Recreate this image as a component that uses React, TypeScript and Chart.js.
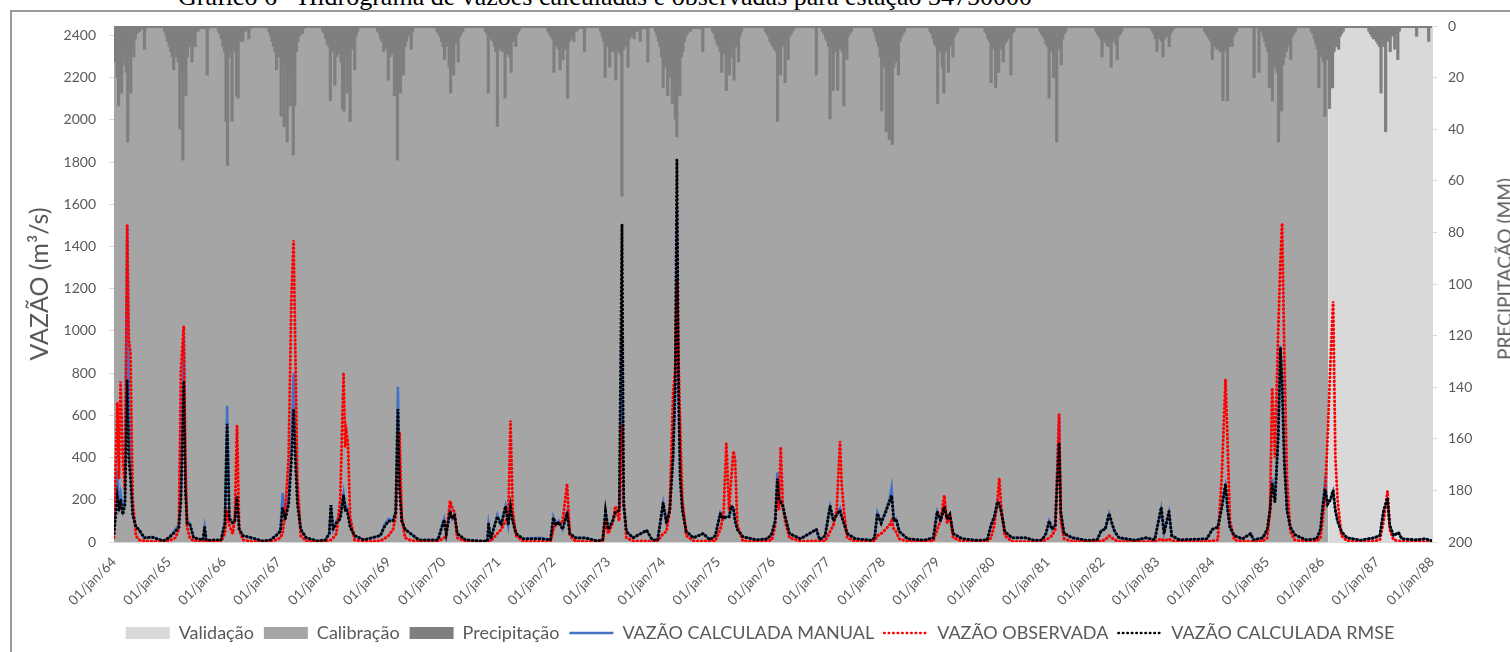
import React, { useEffect, useRef } from 'react';
import { Chart, registerables } from 'chart.js';

Chart.register(...registerables);

const FONT = 'Lato, "Open Sans", sans-serif';
const TEXT_GRAY = '#595959';

// ---- Flow series (decimal-year dates shared by the three series) ----
const flowDates = [
  1964.00, 1964.06, 1964.09, 1964.12, 1964.16, 1964.20, 1964.24, 1964.27, 1964.30, 1964.34, 1964.40, 1964.45, 1964.55, 1964.70, 1964.90,
  1965.00, 1965.12, 1965.18, 1965.22, 1965.27, 1965.30, 1965.33, 1965.38, 1965.45, 1965.62, 1965.65, 1965.68, 1965.95,
  1966.02, 1966.06, 1966.10, 1966.16, 1966.20, 1966.24, 1966.28, 1966.35, 1966.50, 1966.70, 1966.85, 1966.95,
  1967.03, 1967.07, 1967.12, 1967.18, 1967.23, 1967.27, 1967.30, 1967.34, 1967.40, 1967.50, 1967.70, 1967.85, 1967.92, 1967.95, 1967.99,
  1968.05, 1968.12, 1968.18, 1968.21, 1968.23, 1968.26, 1968.30, 1968.38, 1968.55, 1968.85, 1968.92,
  1969.00, 1969.08, 1969.13, 1969.17, 1969.20, 1969.24, 1969.30, 1969.40, 1969.55, 1969.90,
  1970.01, 1970.05, 1970.12, 1970.16, 1970.20, 1970.25, 1970.40, 1970.65, 1970.80, 1970.82, 1970.86, 1970.98,
  1971.05, 1971.13, 1971.18, 1971.22, 1971.26, 1971.32, 1971.45, 1971.77, 1971.95,
  1972.00, 1972.05, 1972.10, 1972.17, 1972.25, 1972.30, 1972.40, 1972.60, 1972.80, 1972.90, 1972.95,
  1973.00, 1973.08, 1973.13, 1973.20, 1973.25, 1973.28, 1973.33, 1973.45, 1973.70, 1973.80, 1973.90,
  1974.00, 1974.06, 1974.12, 1974.18, 1974.22, 1974.25, 1974.28, 1974.31, 1974.35, 1974.42, 1974.55, 1974.73, 1974.85, 1974.95,
  1975.04, 1975.10, 1975.15, 1975.20, 1975.24, 1975.28, 1975.31, 1975.35, 1975.45, 1975.70, 1975.90, 1975.98,
  1976.04, 1976.08, 1976.11, 1976.14, 1976.18, 1976.22, 1976.30, 1976.50, 1976.79, 1976.85, 1976.95,
  1977.04, 1977.10, 1977.16, 1977.22, 1977.25, 1977.29, 1977.35, 1977.50, 1977.80, 1977.85, 1977.90, 1977.97,
  1978.05, 1978.12, 1978.16, 1978.20, 1978.24, 1978.30, 1978.45, 1978.75, 1978.92, 1978.99,
  1979.05, 1979.12, 1979.17, 1979.22, 1979.28, 1979.45, 1979.70, 1979.90, 1979.97,
  1980.03, 1980.09, 1980.12, 1980.16, 1980.22, 1980.35, 1980.60, 1980.75, 1980.90, 1980.97,
  1981.03, 1981.08, 1981.14, 1981.21, 1981.24, 1981.30, 1981.45, 1981.70, 1981.90, 1981.98,
  1982.05, 1982.12, 1982.17, 1982.22, 1982.30, 1982.60, 1982.79, 1982.95,
  1983.07, 1983.12, 1983.21, 1983.26, 1983.40, 1983.90,
  1984.00, 1984.10, 1984.17, 1984.24, 1984.28, 1984.32, 1984.40, 1984.55, 1984.70, 1984.75, 1984.92,
  1985.00, 1985.05, 1985.09, 1985.14, 1985.20, 1985.24, 1985.27, 1985.31, 1985.36, 1985.42, 1985.50, 1985.70, 1985.90, 1985.97,
  1986.00, 1986.05, 1986.10, 1986.15, 1986.20, 1986.24, 1986.28, 1986.35, 1986.45, 1986.70, 1986.95,
  1987.05, 1987.12, 1987.19, 1987.23, 1987.30, 1987.39, 1987.45, 1987.70, 1987.88, 1988.00,
];

const vazaoManual = [
  50, 340, 180, 230, 150, 200, 1496, 700, 400, 150, 70, 60, 20, 25, 5,
  20, 60, 80, 250, 967, 300, 100, 90, 20, 10, 72, 8, 10,
  100, 645, 120, 90, 100, 220, 60, 30, 20, 5, 10, 30,
  60, 233, 120, 200, 450, 800, 500, 200, 60, 20, 5, 10, 40, 175, 60,
  100, 120, 230, 160, 170, 140, 80, 30, 10, 30, 80,
  110, 100, 150, 735, 300, 100, 60, 40, 10, 10,
  110, 40, 150, 110, 130, 40, 10, 5, 5, 85, 15, 130,
  80, 170, 80, 170, 100, 40, 15, 20, 10,
  120, 80, 100, 60, 140, 40, 20, 20, 5, 10, 150,
  60, 100, 140, 150, 975, 180, 50, 20, 55, 10, 10,
  185, 90, 150, 400, 700, 1583, 700, 300, 150, 50, 20, 40, 10, 30,
  140, 110, 120, 120, 170, 160, 100, 60, 25, 10, 15, 40,
  100, 330, 200, 200, 170, 120, 40, 15, 60, 10, 30,
  170, 100, 130, 160, 120, 90, 40, 15, 8, 20, 140, 90,
  150, 200, 260, 100, 110, 50, 15, 8, 20, 145,
  100, 170, 110, 130, 40, 15, 8, 10, 80,
  120, 200, 180, 140, 50, 20, 20, 8, 10, 40,
  100, 60, 80, 590, 150, 40, 20, 8, 10, 55,
  60, 135, 90, 50, 20, 8, 20, 10,
  160, 40, 140, 30, 10, 15,
  60, 70, 170, 265, 150, 70, 30, 15, 40, 10, 20,
  60, 150, 300, 200, 500, 930, 800, 400, 150, 70, 35, 10, 15, 60,
  150, 280, 180, 200, 240, 150, 100, 50, 20, 8, 20,
  30, 150, 190, 80, 30, 45, 15, 10, 15, 5,
];

const vazaoObservada = [
  20, 660, 300, 760, 400, 250, 1500, 960, 900, 200, 30, 10, 5, 3, 2,
  5, 20, 60, 820, 1022, 400, 70, 20, 5, 3, 3, 2, 5,
  40, 150, 80, 40, 110, 550, 60, 10, 3, 2, 2, 10,
  20, 40, 150, 400, 1150, 1430, 930, 300, 30, 5, 2, 2, 10, 10, 20,
  40, 200, 795, 450, 520, 470, 120, 10, 3, 5, 15,
  30, 60, 120, 300, 520, 120, 20, 8, 3, 3,
  20, 30, 195, 160, 140, 20, 3, 2, 2, 5, 5, 40,
  60, 100, 120, 575, 150, 30, 3, 2, 3,
  60, 90, 80, 100, 275, 30, 5, 2, 2, 5, 100,
  40, 90, 170, 100, 550, 200, 20, 5, 5, 2, 5,
  40, 50, 150, 700, 820, 1245, 866, 550, 200, 30, 5, 5, 3, 5,
  60, 130, 465, 150, 300, 430, 390, 80, 5, 3, 5, 10,
  80, 250, 150, 450, 170, 100, 20, 3, 5, 3, 5,
  50, 80, 150, 478, 275, 150, 20, 3, 2, 5, 30, 40,
  60, 80, 100, 60, 50, 15, 3, 2, 5, 60,
  100, 220, 90, 130, 20, 3, 2, 3, 20,
  80, 200, 300, 150, 30, 3, 2, 2, 3, 10,
  20, 30, 60, 605, 100, 15, 3, 2, 2, 5,
  10, 30, 20, 10, 3, 2, 2, 2,
  15, 5, 15, 5, 2, 3,
  5, 10, 300, 770, 450, 100, 10, 3, 3, 2, 5,
  20, 150, 730, 400, 1000, 1330, 1510, 900, 300, 50, 10, 3, 3, 20,
  90, 200, 500, 840, 1140, 400, 200, 30, 5, 2, 5,
  10, 100, 240, 60, 10, 5, 3, 2, 2, 2,
];

const vazaoRmse = [
  40, 210, 150, 200, 130, 180, 770, 400, 300, 130, 70, 60, 20, 22, 5,
  20, 50, 70, 200, 762, 250, 90, 85, 20, 10, 70, 8, 10,
  90, 560, 110, 90, 100, 215, 60, 30, 20, 5, 10, 30,
  50, 160, 110, 180, 380, 630, 400, 180, 60, 20, 5, 10, 40, 175, 60,
  90, 110, 220, 150, 160, 130, 70, 30, 10, 30, 70,
  100, 100, 140, 630, 250, 100, 60, 40, 10, 10,
  105, 40, 145, 110, 130, 40, 10, 5, 5, 85, 15, 120,
  80, 170, 80, 165, 100, 40, 15, 15, 10,
  115, 80, 95, 60, 140, 40, 20, 18, 5, 10, 145,
  60, 100, 140, 150, 1505, 180, 50, 20, 55, 10, 10,
  185, 90, 150, 400, 750, 1810, 700, 300, 150, 50, 20, 40, 10, 30,
  135, 110, 120, 120, 170, 160, 100, 60, 25, 10, 15, 40,
  100, 300, 200, 190, 170, 120, 40, 15, 60, 10, 30,
  170, 100, 130, 150, 120, 90, 40, 15, 8, 20, 135, 90,
  140, 190, 220, 100, 110, 50, 15, 8, 20, 145,
  100, 165, 110, 130, 40, 15, 8, 10, 80,
  120, 190, 180, 140, 50, 20, 20, 8, 10, 40,
  100, 60, 80, 470, 140, 40, 20, 8, 10, 55,
  60, 135, 90, 50, 20, 8, 20, 10,
  165, 40, 145, 30, 10, 15,
  60, 70, 160, 275, 150, 70, 30, 15, 40, 10, 20,
  60, 150, 280, 190, 500, 920, 750, 380, 150, 70, 35, 10, 15, 60,
  140, 250, 180, 200, 245, 150, 100, 50, 20, 8, 20,
  30, 150, 210, 80, 30, 45, 15, 10, 15, 5,
];

// ---- Precipitation: 10-day totals (mm) per rainy season ----
const precipStep = 1 / 36;
const precipSeasonStart = [
  1964.0, 1964.92, 1965.9, 1966.82, 1967.8, 1968.8, 1969.88, 1970.76, 1971.9, 1972.86, 1973.86, 1974.9,
  1975.86, 1976.9, 1977.84, 1978.86, 1979.86, 1980.86, 1981.88, 1982.88, 1983.86, 1984.9, 1985.8, 1986.85,
];
const precipSeasonMm = [
  [8, 14, 20, 31, 12, 26, 15, 10, 18, 45, 12, 26, 8, 12, 5, 3, 2, 2, 1, 1, 9, 1],
  [2, 4, 6, 8, 10, 12, 17, 9, 12, 14, 40, 18, 52, 20, 27, 12, 8, 6, 14, 4, 8, 2, 2, 1, 1, 1, 1, 1, 19, 1],
  [2, 3, 5, 8, 10, 37, 54, 12, 10, 37, 8, 10, 27, 28, 6, 4, 6, 2, 2, 1, 5, 1],
  [2, 4, 6, 8, 10, 17, 9, 12, 35, 14, 39, 15, 45, 20, 31, 18, 50, 31, 10, 6, 4, 3, 3, 1],
  [2, 3, 5, 7, 8, 29, 10, 9, 23, 12, 10, 11, 14, 32, 33, 12, 26, 10, 37, 9, 8, 17, 4, 2],
  [2, 3, 5, 6, 10, 8, 9, 21, 12, 10, 11, 27, 14, 52, 12, 26, 10, 19, 8, 6, 4, 3, 9, 2],
  [2, 3, 4, 6, 8, 13, 7, 8, 16, 26, 8, 19, 7, 6, 14, 4, 3, 2],
  [2, 3, 26, 4, 5, 6, 8, 10, 39, 9, 8, 10, 9, 28, 11, 9, 12, 18, 6, 5, 8, 3, 2, 1],
  [2, 3, 4, 5, 18, 7, 8, 9, 17, 8, 13, 9, 8, 28, 6, 5, 4, 6, 2, 2, 1, 1, 1, 1, 10, 1],
  [2, 4, 6, 20, 7, 8, 16, 9, 10, 8, 21, 9, 10, 11, 66, 9, 8, 7, 16, 5, 4, 3, 5, 2, 2, 1, 6, 1, 1, 1, 1, 14],
  [2, 4, 6, 8, 12, 24, 14, 16, 27, 18, 20, 30, 22, 36, 43, 25, 27, 12, 10, 6, 4, 3, 2, 2, 1, 1, 1, 1, 1, 1, 1, 10],
  [2, 3, 5, 7, 8, 10, 18, 9, 11, 25, 10, 19, 12, 9, 21, 8, 6, 14, 4, 2],
  [2, 3, 4, 6, 7, 8, 9, 10, 37, 9, 19, 8, 7, 22, 6, 13, 4, 3, 2, 1],
  [2, 3, 5, 6, 8, 36, 9, 25, 10, 9, 25, 8, 9, 10, 31, 8, 13, 4, 3, 2],
  [2, 4, 6, 8, 12, 33, 14, 16, 41, 18, 44, 17, 46, 16, 14, 12, 19, 6, 4, 3, 2],
  [2, 3, 5, 7, 8, 30, 10, 9, 16, 26, 10, 9, 18, 8, 7, 12, 4, 3, 2],
  [2, 3, 5, 6, 22, 8, 9, 24, 10, 18, 8, 9, 14, 7, 6, 5, 4, 19, 3, 2],
  [2, 3, 4, 5, 7, 8, 28, 9, 10, 20, 8, 45, 9, 8, 15, 5, 3, 2],
  [2, 3, 4, 5, 12, 6, 5, 7, 8, 6, 16, 6, 5, 7, 13, 4, 3, 2],
  [1, 2, 3, 5, 10, 4, 5, 6, 12, 5, 4, 4, 8, 3, 2, 1],
  [2, 3, 4, 5, 6, 13, 7, 8, 9, 8, 10, 9, 29, 9, 10, 29, 8, 7, 8, 4, 3, 2],
  [2, 4, 6, 8, 10, 24, 12, 29, 14, 16, 18, 45, 20, 33, 15, 12, 10, 8, 6, 13, 4, 3, 2],
  [2, 3, 5, 7, 9, 24, 10, 12, 14, 35, 13, 12, 32, 12, 24, 10, 8, 6, 9, 4, 3, 2],
  [2, 3, 4, 5, 5, 6, 7, 8, 26, 7, 8, 41, 6, 5, 10, 4, 3, 9, 3, 13, 2],
];
const precipIsolatedDates = [1976.79, 1984.76, 1984.85, 1987.72, 1987.94];
const precipIsolatedMm = [19, 20, 18, 4, 6];

// ---- Periods (background bands) ----
const periodNames = ['Validação', 'Calibração'];
const periodStart = [1986.11, 1964.0];
const periodEnd = [1988.0, 1986.11];

// ---- Axes ----
const yearTicks = [1964, 1965, 1966, 1967, 1968, 1969, 1970, 1971, 1972, 1973, 1974, 1975, 1976, 1977, 1978, 1979, 1980, 1981, 1982, 1983, 1984, 1985, 1986, 1987, 1988];
const flowTicks = [0, 200, 400, 600, 800, 1000, 1200, 1400, 1600, 1800, 2000, 2200, 2400];
const precipTicks = [0, 20, 40, 60, 80, 100, 120, 140, 160, 180, 200];

const COLORS = {
  validacao: '#d9d9d9',
  calibracao: '#a5a5a5',
  precip: '#7f7f7f',
  manual: '#4472c4',
  observada: '#ff0000',
  rmse: '#000000',
};

export default function App() {
  const ref = useRef<HTMLCanvasElement>(null);

  useEffect(() => {
    const canvas = ref.current;
    if (!canvas) return;

    const pts = (xs: number[], ys: number[]) => xs.map((x, i) => ({ x, y: ys[i] }));
    const precipPts: { x: number; y: number }[] = [];
    precipSeasonStart.forEach((s, k) => {
      precipSeasonMm[k].forEach((v, i) => precipPts.push({ x: s + i * precipStep, y: v }));
    });
    precipIsolatedDates.forEach((d, i) => precipPts.push({ x: d, y: precipIsolatedMm[i] }));

    const legendItems = [
      { text: periodNames[0], fillStyle: COLORS.validacao, strokeStyle: COLORS.validacao, lineWidth: 0, pointStyle: 'rect', lineDash: [], lineCap: 'butt' },
      { text: periodNames[1], fillStyle: COLORS.calibracao, strokeStyle: COLORS.calibracao, lineWidth: 0, pointStyle: 'rect', lineDash: [], lineCap: 'butt' },
      { text: 'Precipitação', fillStyle: COLORS.precip, strokeStyle: COLORS.precip, lineWidth: 0, pointStyle: 'rect', lineDash: [], lineCap: 'butt' },
      { text: 'VAZÃO CALCULADA MANUAL', fillStyle: COLORS.manual, strokeStyle: COLORS.manual, lineWidth: 2.5, pointStyle: 'line', lineDash: [], lineCap: 'butt' },
      { text: 'VAZÃO OBSERVADA', fillStyle: COLORS.observada, strokeStyle: COLORS.observada, lineWidth: 2.5, pointStyle: 'line', lineDash: [0.5, 4], lineCap: 'round' },
      { text: 'VAZÃO CALCULADA RMSE', fillStyle: COLORS.rmse, strokeStyle: COLORS.rmse, lineWidth: 2.5, pointStyle: 'line', lineDash: [0.5, 4], lineCap: 'round' },
    ];

    const topBand = {
      id: 'topBand',
      afterDatasetsDraw(chart: any) {
        const { ctx, chartArea } = chart;
        ctx.save();
        ctx.fillStyle = COLORS.precip;
        ctx.fillRect(chartArea.left, chartArea.top, chartArea.right - chartArea.left, 2);
        ctx.restore();
      },
    };

    const chart = new Chart(canvas, {
      type: 'line',
      data: {
        datasets: [
          {
            label: periodNames[0],
            data: [{ x: periodStart[0], y: 1 }, { x: periodEnd[0], y: 1 }],
            yAxisID: 'yBg',
            backgroundColor: COLORS.validacao,
            borderWidth: 0,
            pointRadius: 0,
            fill: 'start',
            order: 6,
          },
          {
            label: periodNames[1],
            data: [{ x: periodStart[1], y: 1 }, { x: periodEnd[1], y: 1 }],
            yAxisID: 'yBg',
            backgroundColor: COLORS.calibracao,
            borderWidth: 0,
            pointRadius: 0,
            fill: 'start',
            order: 5,
          },
          {
            type: 'bar',
            label: 'Precipitação',
            data: precipPts,
            yAxisID: 'y2',
            backgroundColor: COLORS.precip,
            borderWidth: 0,
            barThickness: 2.5,
            order: 4,
          } as any,
          {
            label: 'VAZÃO CALCULADA MANUAL',
            data: pts(flowDates, vazaoManual),
            yAxisID: 'y',
            borderColor: COLORS.manual,
            borderWidth: 2.5,
            pointRadius: 0,
            fill: false,
            tension: 0,
            order: 3,
          },
          {
            label: 'VAZÃO OBSERVADA',
            data: pts(flowDates, vazaoObservada),
            yAxisID: 'y',
            borderColor: COLORS.observada,
            borderWidth: 3,
            borderDash: [0.5, 3.5],
            borderCapStyle: 'round',
            pointRadius: 0,
            fill: false,
            tension: 0,
            order: 2,
          },
          {
            label: 'VAZÃO CALCULADA RMSE',
            data: pts(flowDates, vazaoRmse),
            yAxisID: 'y',
            borderColor: COLORS.rmse,
            borderWidth: 3,
            borderDash: [0.5, 3.5],
            borderCapStyle: 'round',
            pointRadius: 0,
            fill: false,
            tension: 0,
            order: 1,
          },
        ],
      },
      options: {
        animation: false,
        responsive: false,
        maintainAspectRatio: false,
        events: [],
        layout: { padding: { left: 10, right: 0, top: 26, bottom: 0 } },
        plugins: {
          tooltip: { enabled: false },
          legend: {
            display: true,
            position: 'bottom',
            labels: {
              font: { family: FONT, size: 18 },
              color: TEXT_GRAY,
              usePointStyle: true,
              pointStyleWidth: 44,
              boxHeight: 12,
              padding: 10,
              generateLabels: () =>
                legendItems.map((it, i) => ({
                  ...it,
                  datasetIndex: i,
                  hidden: false,
                  rotation: 0,
                  fontColor: TEXT_GRAY,
                })) as any,
            },
          },
        },
        scales: {
          x: {
            type: 'linear',
            min: yearTicks[0],
            max: yearTicks[yearTicks.length - 1],
            offset: false,
            grid: { display: false, drawTicks: false },
            border: { display: true, color: '#d9d9d9', width: 1 },
            afterBuildTicks: (s: any) => {
              s.ticks = yearTicks.map((v) => ({ value: v }));
            },
            afterFit: (s: any) => {
              s.height = 72;
            },
            ticks: {
              autoSkip: false,
              minRotation: 45,
              maxRotation: 45,
              padding: 12,
              color: TEXT_GRAY,
              font: { family: FONT, size: 13.5 },
              callback: (v: any) => '01/jan/' + String(v).slice(2),
            },
          },
          y: {
            type: 'linear',
            position: 'left',
            min: 0,
            max: 2445,
            grid: { drawOnChartArea: false, drawTicks: true, tickLength: 5, color: '#d9d9d9' },
            border: { display: true, color: '#d9d9d9' },
            afterBuildTicks: (s: any) => {
              s.ticks = flowTicks.map((v) => ({ value: v }));
            },
            afterFit: (s: any) => {
              s.width = 104;
            },
            ticks: {
              padding: 13,
              color: TEXT_GRAY,
              font: { family: FONT, size: 14 },
              callback: (v: any) => String(v),
            },
            title: {
              display: true,
              text: 'VAZÃO (m³/s)',
              color: TEXT_GRAY,
              font: { family: FONT, size: 25, lineHeight: 1.2 },
              padding: { top: 15, bottom: 0 },
            },
          },
          y2: {
            type: 'linear',
            axis: 'y',
            position: 'right',
            reverse: true,
            min: 0,
            max: 200,
            grid: { drawOnChartArea: false, drawTicks: true, tickLength: 5, color: '#d9d9d9' },
            border: { display: true, color: '#d9d9d9' },
            afterBuildTicks: (s: any) => {
              s.ticks = precipTicks.map((v) => ({ value: v }));
            },
            afterFit: (s: any) => {
              s.width = 78;
            },
            ticks: {
              padding: 11,
              color: TEXT_GRAY,
              font: { family: FONT, size: 14 },
              callback: (v: any) => String(v),
            },
          },
          yBg: {
            type: 'linear',
            axis: 'y',
            display: false,
            min: 0,
            max: 1,
          },
        },
      } as any,
      plugins: [topBand],
    });

    return () => chart.destroy();
  }, []);

  return (
    <div
      style={{
        position: 'absolute',
        left: 0,
        top: 0,
        width: 1510,
        height: 652,
        overflow: 'hidden',
        background: '#ffffff',
      }}
    >
      <div
        style={{
          position: 'absolute',
          left: 178,
          top: -16,
          whiteSpace: 'nowrap',
          fontFamily: '"Liberation Serif", "Times New Roman", serif',
          fontSize: 26,
          lineHeight: '26px',
          color: '#000',
        }}
      >
        Gráfico 6 - Hidrograma de vazões calculadas e observadas para estação 34750000
      </div>
      <div
        style={{
          position: 'absolute',
          left: 10,
          top: 10,
          width: 1600,
          height: 700,
          borderTop: '2px solid #9a9a9a',
          borderLeft: '2px solid #9a9a9a',
          boxSizing: 'border-box',
        }}
      />
      <canvas
        ref={ref}
        width={1510}
        height={652}
        style={{ position: 'absolute', left: 0, top: 0, width: 1510, height: 652 }}
      />
      <div
        style={{
          position: 'absolute',
          left: 1504,
          top: 269,
          transform: 'translate(-50%, -50%) rotate(-90deg)',
          whiteSpace: 'nowrap',
          fontFamily: FONT,
          fontSize: 19,
          color: TEXT_GRAY,
        }}
      >
        PRECIPITAÇÃO (MM)
      </div>
    </div>
  );
}
